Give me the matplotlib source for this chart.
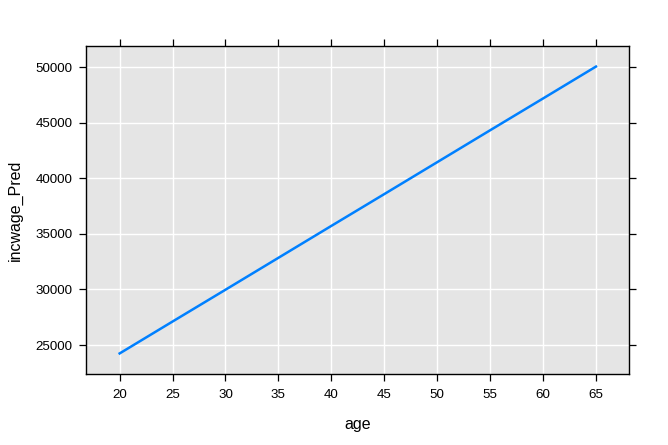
import matplotlib
matplotlib.use("Agg")
import matplotlib.pyplot as plt

age = [20, 25, 30, 35, 40, 45, 50, 55, 60, 65]
incwage_pred = [24250, 27120, 29980, 32850, 35720, 38580, 41450, 44320, 47180, 50050]
xticks = [20, 25, 30, 35, 40, 45, 50, 55, 60, 65]
yticks = [25000, 30000, 35000, 40000, 45000, 50000]

plt.rcParams['font.family'] = ['Liberation Sans', 'DejaVu Sans']

fig = plt.figure(figsize=(6.68, 4.45), dpi=100)
ax = fig.add_axes([86.3/668, 1 - 374/445, (629.3-86.3)/668, (374-46)/445])
ax.set_facecolor('#E5E5E5')
ax.plot(age, incwage_pred, color='#0080ff', lw=1.8, zorder=3)
ax.set_xlim(16.85, 68.15)
ax.set_ylim(22400, 51900)
ax.set_xticks(xticks)
ax.set_yticks(yticks)
ax.grid(True, color='white', lw=1.0, zorder=1)
ax.set_axisbelow(True)
ax.tick_params(direction='out', length=5, width=0.9, labelsize=9.6, colors='black',
               top=True, right=True, labeltop=False, labelright=False)
ax.tick_params(axis='y', pad=5)
ax.tick_params(axis='x', pad=6)
for s in ax.spines.values():
    s.set_linewidth(1.0)
    s.set_color('black')
ax.set_xlabel('age', fontsize=11.5, labelpad=11)
ax.set_ylabel('incwage_Pred', fontsize=11.5, labelpad=9)
fig.savefig('out.png', dpi=100)
